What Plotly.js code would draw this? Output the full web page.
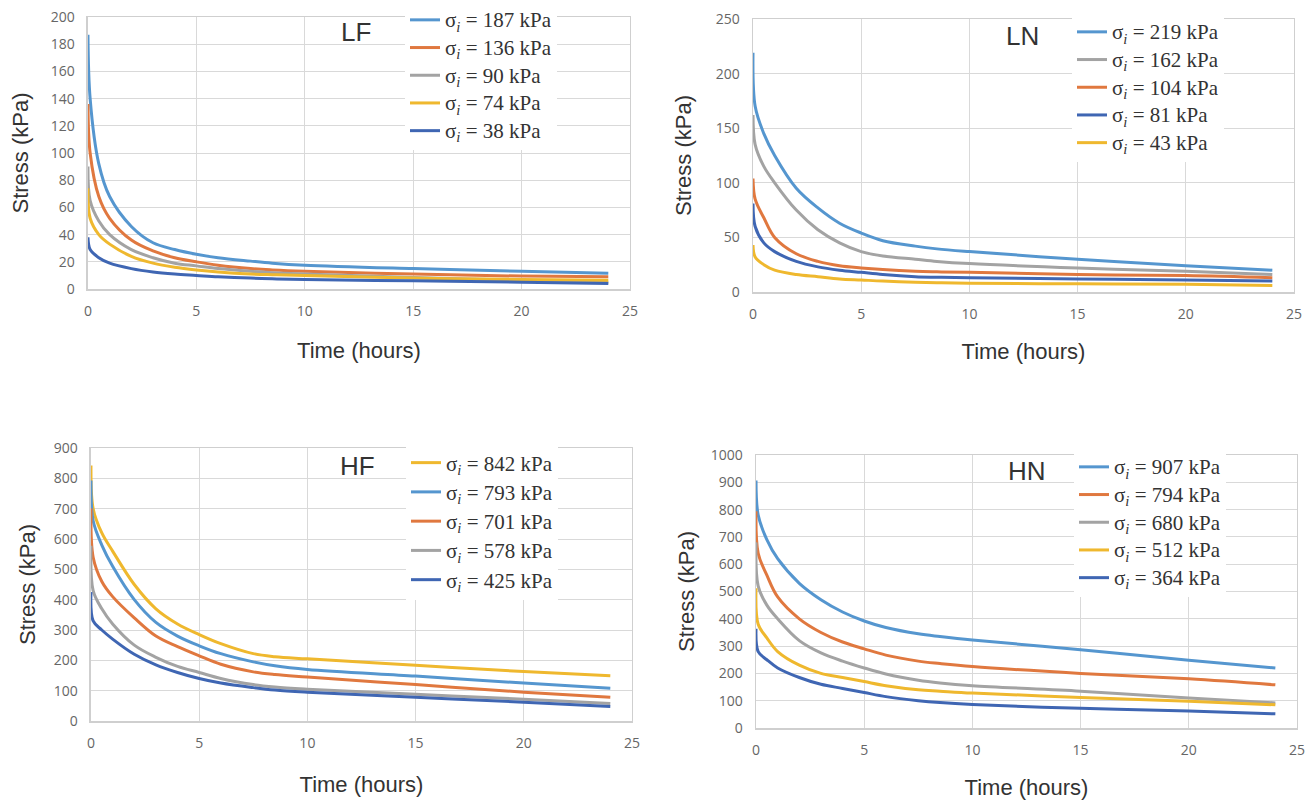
<!DOCTYPE html>
<html>
<head>
<meta charset="utf-8">
<script src="https://cdn.plot.ly/plotly-3.0.1.min.js"></script>
<style>html,body{margin:0;padding:0;background:#fff;}#chart{width:1313px;height:800px;}</style>
</head>
<body>
<div id="chart"></div>
<script>
// Time (hours)
const time = [0, 0.1, 0.5, 1, 2, 3, 4, 5, 6, 7.5, 8.5, 10, 15, 20, 24];

// LF panel
const lfLabels = ["187", "136", "90", "74", "38"];
const lf187 = [187, 140, 92, 68, 46, 34, 29, 25.5, 23, 20.5, 19, 17.5, 15, 13, 11.5];
const lf136 = [136, 100, 68, 52, 36, 28, 23, 20, 17.5, 15, 14, 13, 11, 9.5, 9];
const lf90  = [90, 65, 50, 40, 29, 23, 19, 17, 15, 13, 12, 11, 8.5, 6.5, 5];
const lf74  = [74, 52, 40, 33, 24, 19, 16, 14, 12.5, 11, 10.5, 10, 8, 7, 6.5];
const lf38  = [38, 29, 23, 19, 15, 12.5, 11, 10, 9, 8, 7.5, 7, 6, 5, 4];

// LN panel
const lnLabels = ["219", "162", "104", "81", "43"];
const ln219 = [219, 170, 145, 125, 95, 77, 63, 54, 47, 42, 39.5, 37, 30, 24, 20];
const ln162 = [162, 135, 115, 100, 75, 57, 45, 37, 33, 30, 28, 26, 22, 19, 16];
const ln104 = [104, 85, 68, 50, 35, 28, 24, 22, 20.5, 19, 18.5, 18, 16, 15, 13];
const ln81  = [81, 60, 45, 37, 28, 23, 20, 18, 16, 14, 13.5, 13, 12, 11, 10];
const ln43  = [43, 32, 25, 20, 16, 14, 12, 11, 10, 9, 8.5, 8, 7.5, 7, 6];

// HF panel
const hfLabels = ["842", "793", "701", "578", "425"];
const hf842 = [842, 700, 620, 560, 450, 370, 320, 285, 255, 222, 212, 205, 184, 163, 149];
const hf793 = [793, 660, 580, 510, 400, 325, 280, 248, 222, 195, 182, 170, 148, 125, 108];
const hf701 = [701, 540, 460, 410, 340, 280, 245, 215, 187, 162, 153, 145, 120, 95, 78];
const hf578 = [578, 430, 370, 320, 250, 210, 180, 160, 140, 120, 112, 105, 88, 72, 58];
const hf425 = [425, 330, 300, 270, 220, 185, 160, 140, 125, 110, 102, 95, 78, 62, 48];

// HN panel
const hnLabels = ["907", "794", "680", "512", "364"];
const hn907 = [907, 780, 690, 620, 530, 470, 425, 392, 368, 345, 335, 322, 287, 248, 220];
const hn794 = [794, 640, 560, 480, 400, 350, 315, 290, 267, 245, 236, 225, 200, 180, 158];
const hn680 = [680, 520, 450, 400, 320, 275, 245, 220, 198, 175, 165, 155, 135, 110, 92];
const hn512 = [512, 380, 330, 280, 230, 200, 185, 170, 155, 140, 135, 128, 112, 98, 85];
const hn364 = [364, 280, 250, 220, 185, 160, 145, 130, 115, 100, 93, 86, 72, 62, 52];

const C = {
  blue: '#5596cf', orange: '#e0783f', gray: '#a3a3a3', yellow: '#efb82e', dark: '#3f66b3'
};

function tr(y, label, color, xa, ya, leg) {
  return {
    x: time, y: y, type: 'scatter', mode: 'lines',
    name: '<span style="font-size:21px">σ<sub><i>i</i></sub> = ' + label + ' kPa</span>',
    line: {color: color, width: 3, shape: 'spline', smoothing: 1},
    xaxis: xa, yaxis: ya, legend: leg, hoverinfo: 'skip'
  };
}

const data = [
  tr(lf187, lfLabels[0], C.blue, 'x', 'y', 'legend'),
  tr(lf136, lfLabels[1], C.orange, 'x', 'y', 'legend'),
  tr(lf90, lfLabels[2], C.gray, 'x', 'y', 'legend'),
  tr(lf74, lfLabels[3], C.yellow, 'x', 'y', 'legend'),
  tr(lf38, lfLabels[4], C.dark, 'x', 'y', 'legend'),

  tr(ln219, lnLabels[0], C.blue, 'x2', 'y2', 'legend2'),
  tr(ln162, lnLabels[1], C.gray, 'x2', 'y2', 'legend2'),
  tr(ln104, lnLabels[2], C.orange, 'x2', 'y2', 'legend2'),
  tr(ln81, lnLabels[3], C.dark, 'x2', 'y2', 'legend2'),
  tr(ln43, lnLabels[4], C.yellow, 'x2', 'y2', 'legend2'),

  tr(hf842, hfLabels[0], C.yellow, 'x3', 'y3', 'legend3'),
  tr(hf793, hfLabels[1], C.blue, 'x3', 'y3', 'legend3'),
  tr(hf701, hfLabels[2], C.orange, 'x3', 'y3', 'legend3'),
  tr(hf578, hfLabels[3], C.gray, 'x3', 'y3', 'legend3'),
  tr(hf425, hfLabels[4], C.dark, 'x3', 'y3', 'legend3'),

  tr(hn907, hnLabels[0], C.blue, 'x4', 'y4', 'legend4'),
  tr(hn794, hnLabels[1], C.orange, 'x4', 'y4', 'legend4'),
  tr(hn680, hnLabels[2], C.gray, 'x4', 'y4', 'legend4'),
  tr(hn512, hnLabels[3], C.yellow, 'x4', 'y4', 'legend4'),
  tr(hn364, hnLabels[4], C.dark, 'x4', 'y4', 'legend4')
];

const tickFont = {family: 'Open Sans, Liberation Sans, sans-serif', size: 14, color: '#666'};
const titleFont = {family: 'Liberation Sans, Arial, sans-serif', size: 22, color: '#333'};

function xax(domain, anchor, standoff) {
  return {
    domain: domain, anchor: anchor, range: [0, 25], tickvals: [0, 5, 10, 15, 20, 25],
    showgrid: true, gridcolor: '#d9d9d9', gridwidth: 1,
    showline: true, linecolor: '#cfcfcf', linewidth: 1.5, mirror: true,
    zeroline: false, ticks: 'outside', ticklen: 9, tickcolor: 'rgba(0,0,0,0)',
    tickfont: tickFont,
    title: {text: 'Time (hours)', font: titleFont, standoff: standoff}
  };
}
function yax(domain, anchor, max, dtick, standoff) {
  return {
    domain: domain, anchor: anchor, range: [0, max], dtick: dtick,
    showgrid: true, gridcolor: '#d9d9d9', gridwidth: 1,
    showline: true, linecolor: '#cfcfcf', linewidth: 1.5, mirror: true,
    zeroline: false, ticks: 'outside', ticklen: 9, tickcolor: 'rgba(0,0,0,0)',
    tickfont: tickFont,
    title: {text: 'Stress (kPa)', font: titleFont, standoff: standoff}
  };
}
function leg(x, y, size) {
  return {
    x: x, y: y, xanchor: 'left', yanchor: 'top', bgcolor: '#ffffff', borderwidth: 0,
    font: {family: 'Liberation Serif, Times New Roman, serif', size: size, color: '#333'},
    itemwidth: 30, tracegroupgap: 0
  };
}
function lab(text, x, y) {
  return {text: text, x: x, y: y, xref: 'paper', yref: 'paper', xanchor: 'center', yanchor: 'middle',
    showarrow: false, font: {family: 'Liberation Sans, Arial, sans-serif', size: 26, color: '#333'}};
}

const layout = {
  width: 1313, height: 800,
  margin: {l: 0, r: 0, t: 0, b: 0},
  paper_bgcolor: '#fff', plot_bgcolor: '#fff',
  showlegend: true,
  xaxis: xax([0.0670, 0.4798], 'y', 23),
  yaxis: yax([0.63875, 0.97875], 'x', 200, 20, 16),
  xaxis2: xax([0.5735, 0.9855], 'y2', 21),
  yaxis2: yax([0.635, 0.97625], 'x2', 250, 50, 18),
  xaxis3: xax([0.0693, 0.4813], 'y3', 25),
  yaxis3: yax([0.09875, 0.44], 'x3', 900, 100, 12),
  xaxis4: xax([0.5758, 0.9878], 'y4', 21),
  yaxis4: yax([0.09, 0.43125], 'x4', 1000, 100, 10),
  legend: leg(405/1313, 1 - 1/800, 19),
  legend2: leg(1072/1313, 1 - 13/800, 19),
  legend3: leg(406/1313, 1 - 443/800, 20.2),
  legend4: leg(1074/1313, 1 - 448/800, 19),
  annotations: [
    lab('LF', 356/1313, 1 - 32/800),
    lab('LN', 1022/1313, 1 - 36/800),
    lab('HF', 357/1313, 1 - 466/800),
    lab('HN', 1027/1313, 1 - 471/800)
  ]
};

Plotly.newPlot('chart', data, layout, {displayModeBar: false, staticPlot: true});
</script>
</body>
</html>
